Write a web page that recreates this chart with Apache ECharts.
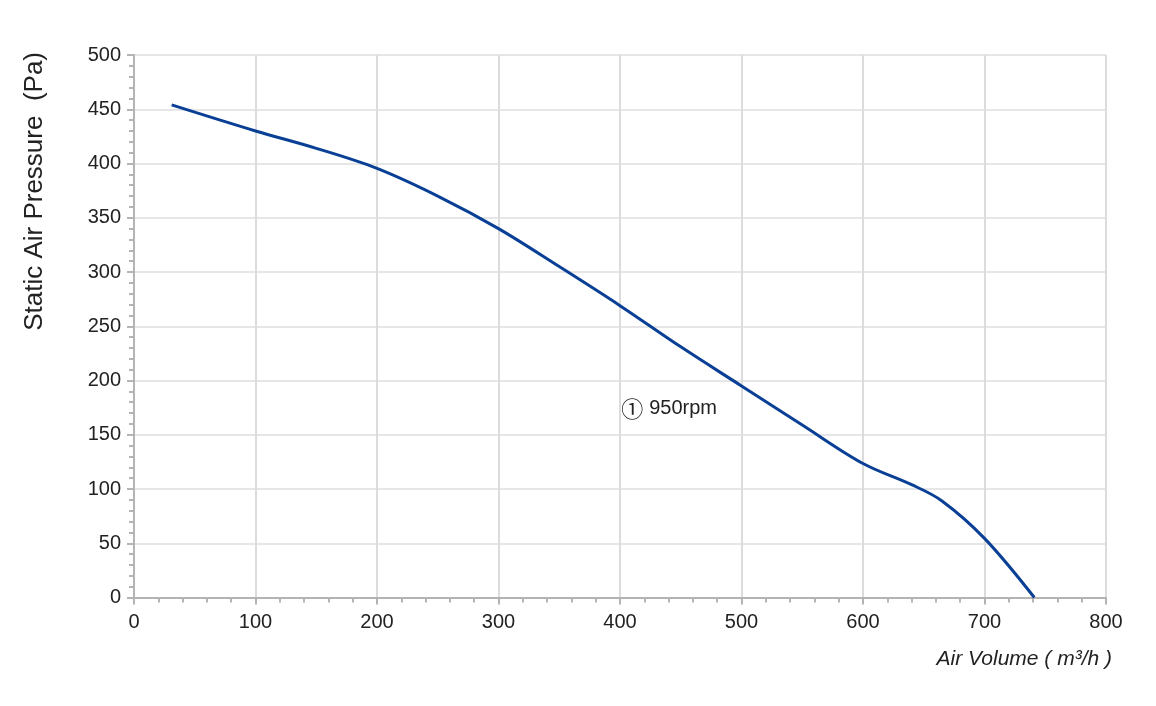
<!DOCTYPE html>
<html>
<head>
<meta charset="utf-8">
<script src="https://cdn.jsdelivr.net/npm/echarts@6/dist/echarts.min.js"></script>
<style>
html,body{margin:0;padding:0;background:#fff;}
#c{width:1156px;height:706px;}
</style>
</head>
<body>
<div id="c"></div>
<script>
// Air volume (m3/h) and static pressure (Pa) of the 950 rpm curve
const airVolume = [31, 100, 150, 200, 250, 300, 350, 400, 450, 500, 550, 600, 640, 665, 700, 741];
const pressure  = [454, 430, 414, 395.5, 370, 340, 305, 269, 231, 195, 159, 123.5, 104, 89, 54.5, 0];
const curveName = '① 950rpm';
const labelAt = [401, 174];
const xTitle = 'Air Volume ( m³/h )';
const yTitle = 'Static Air Pressure  (Pa)';

const chart = echarts.init(document.getElementById('c'), null, {renderer: 'canvas'});
const font = 'Liberation Sans, Arial, sans-serif';
const axisGray = '#b4b4b4';
const gridGray = '#dcdcdc';

chart.setOption({
  animation: false,
  backgroundColor: '#fff',
  grid: {left: 134, right: 50, top: 55, bottom: 108.5, containLabel: false},
  xAxis: {
    type: 'value', min: 0, max: 800, interval: 100,
    axisLine: {show: true, lineStyle: {color: axisGray, width: 2}},
    axisTick: {show: true, length: 7, lineStyle: {color: axisGray, width: 2}},
    minorTick: {show: true, splitNumber: 5, length: 5, lineStyle: {color: axisGray, width: 2}},
    splitLine: {show: true, lineStyle: {color: gridGray, width: 2}},
    axisLabel: {fontFamily: font, fontSize: 20, color: '#222', margin: 15}
  },
  yAxis: {
    type: 'value', min: 0, max: 500, interval: 50,
    axisLine: {show: true, lineStyle: {color: axisGray, width: 2}},
    axisTick: {show: true, length: 7, lineStyle: {color: axisGray, width: 2}},
    minorTick: {show: true, splitNumber: 5, length: 5, lineStyle: {color: axisGray, width: 2}},
    splitLine: {show: true, lineStyle: {color: '#e6e6e6', width: 2}},
    axisLabel: {fontFamily: font, fontSize: 20, color: '#222', margin: 13}
  },
  graphic: [
    {type: 'text', left: 22, top: 52, rotation: Math.PI / 2,
     style: {text: yTitle, font: '26px Liberation Sans, Arial, sans-serif', fill: '#222'}},
    {type: 'text', right: 44, top: 649,
     style: {text: xTitle, font: 'italic 21px Liberation Sans, Arial, sans-serif', fill: '#222'}}
  ],
  series: [{
    type: 'line',
    name: curveName,
    data: airVolume.map((v, i) => [v, pressure[i]]),
    smooth: 0.35,
    symbol: 'none',
    lineStyle: {color: '#0a3f96', width: 3},
    markPoint: {
      symbol: 'circle', symbolSize: 0,
      data: [{coord: labelAt, value: curveName}],
      label: {show: true, position: 'right', distance: 0,
              formatter: '{c|①}{t|950rpm}',
              rich: {
                c: {fontFamily: 'Noto Sans CJK SC', fontSize: 22, color: '#222', padding: [0, 6, 0, 0]},
                t: {fontFamily: font, fontSize: 20, color: '#222'}
              }}
    }
  }]
});
</script>
</body>
</html>
